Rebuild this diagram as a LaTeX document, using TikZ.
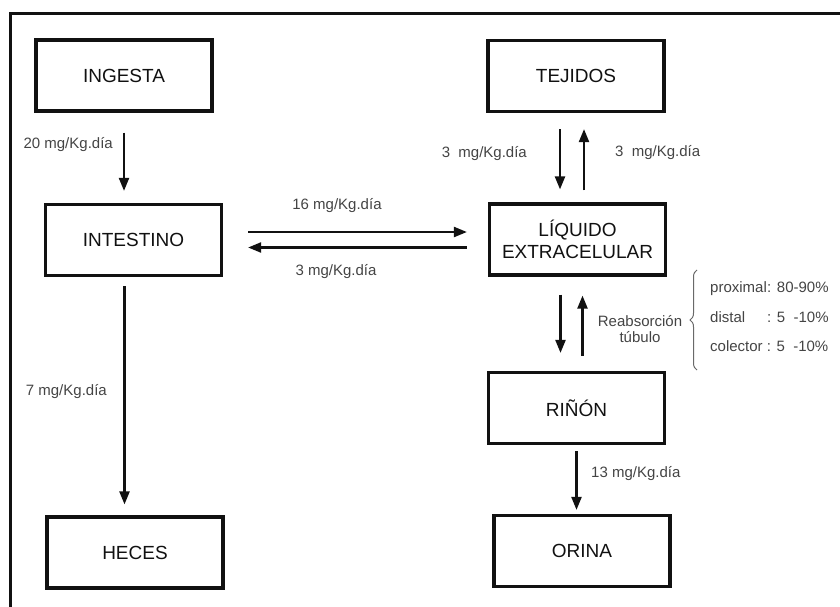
\documentclass[tikz,border=0pt]{standalone}
\usepackage{fontspec}
\setmainfont{Liberation Sans}
\usepackage{tikz}
\usetikzlibrary{arrows.meta,decorations.pathreplacing,positioning}
\definecolor{boxInk}{HTML}{111111}
\definecolor{rateGray}{HTML}{444444}

\begin{document}
\begin{tikzpicture}[
  x=1pt, y=-1pt,
  >={Triangle[length=13pt,width=10pt]},
  every node/.style={font=\fontsize{15}{16}\selectfont},
  organbox/.style={rectangle, draw=boxInk, line width=3.2pt,
    minimum width=176pt, minimum height=71pt, inner sep=0pt,
    font=\fontsize{19}{22}\selectfont, text=boxInk, align=center},
  flow/.style={->, draw=boxInk, line width=2.2pt},
  rate/.style={text=rateGray, inner sep=0pt},
  bracestyle/.style={draw=rateGray!80, line width=1pt, decorate,
    decoration={brace, amplitude=7pt}},
]
\useasboundingbox (0,0) rectangle (840,607);

% ======= Frame =======
\draw[boxInk, line width=3pt] (10,607) -- (10,14) -- (840,14);

% ======= Left column =======
\node[organbox] (ingesta) at (124,75.5) {INGESTA};
\node[organbox] (intestino) at (133.5,240) {INTESTINO};
\node[organbox] (heces) at (135,552.5) {HECES};

\draw[flow, shorten <=20pt, shorten >=12pt]
  (ingesta.south) -- (ingesta.south |- intestino.north);
\node[rate, anchor=east] (r20) at (113,145) {20 mg/Kg.día};

\draw[flow, shorten <=9pt, shorten >=11pt]
  ([xshift=-9pt]intestino.south) -- ([xshift=-9pt]intestino.south |- heces.north);
\node[rate, anchor=east] (r7) at (107,392) {7 mg/Kg.día};

% ======= Right column =======
\node[organbox] (tejidos) at (576,76) {TEJIDOS};
\node[organbox] (liquido) at (577.5,239.5) {LÍQUIDO\\EXTRACELULAR};
\node[organbox] (rinon) at (576.5,408) {RIÑÓN};
\node[organbox] (orina) at (582,551) {ORINA};

% tejidos <-> liquido
\draw[flow, shorten <=16pt, shorten >=13pt]
  ([xshift=-16pt]tejidos.south) -- ([xshift=-16pt]tejidos.south |- liquido.north);
\draw[flow, shorten <=12pt, shorten >=16pt]
  ([xshift=8pt]tejidos.south |- liquido.north) -- ([xshift=8pt]tejidos.south);
\node[rate, anchor=east] (r3in) at (527,154) {3~~mg/Kg.día};
\node[rate, anchor=west] (r3out) at (615,153) {3~~mg/Kg.día};

% liquido <-> rinon
\draw[flow, shorten <=18pt, shorten >=18pt]
  ([xshift=-17pt]liquido.south) -- ([xshift=-17pt]liquido.south |- rinon.north);
\draw[flow, shorten <=15pt, shorten >=19pt]
  ([xshift=5pt]liquido.south |- rinon.north) -- ([xshift=5pt]liquido.south);
\node[rate, align=center] (reab) at (640,329) {Reabsorción\\túbulo};

% Brace
\coordinate (bracetop) at (697,270);
\coordinate (bracebot) at (697,370);
\draw[bracestyle] (bracebot) -- (bracetop);
\node[rate, anchor=west] (prox) at (710,289) {\makebox[57pt][l]{proximal}: 80-90\%};
\node[rate, anchor=west] (dist) at (710,317) {\makebox[57pt][l]{distal}: 5~~-10\%};
\node[rate, anchor=west] (colec) at (710,346) {colector : 5~~-10\%};

% rinon -> orina
\draw[flow, shorten <=6pt, shorten >=4pt]
  (rinon.south) -- (rinon.south |- orina.north);
\node[rate, anchor=west] (r13) at (591,474) {13 mg/Kg.día};

% ======= Exchange =======
\draw[flow, shorten <=25pt, shorten >=21pt]
  ([yshift=8pt]intestino.east) -- ([yshift=8pt]intestino.east -| liquido.west);
\node[rate] (r16) at (337,206) {16 mg/Kg.día};
\draw[flow, shorten <=21pt, shorten >=25pt]
  ([yshift=-8pt]liquido.west) -- ([yshift=-8pt]liquido.west -| intestino.east);
\node[rate] (r3back) at (336,272) {3 mg/Kg.día};

\end{tikzpicture}
\end{document}
